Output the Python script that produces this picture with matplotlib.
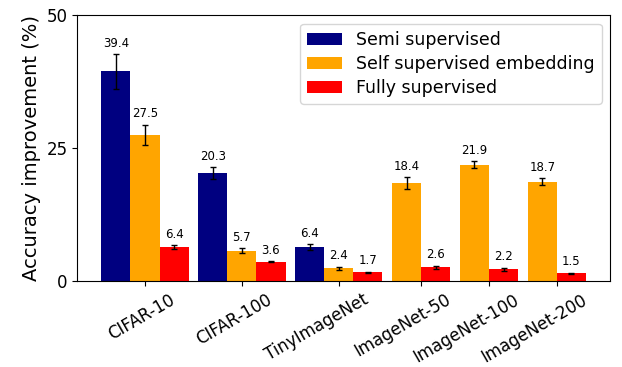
#!/usr/bin/env python3
'''
Accuracy improvement per dataset, grouped bars with error bars.
'''

import numpy as np
import matplotlib
matplotlib.use('Agg')
import matplotlib.pyplot as plt
import matplotlib.transforms as mtransforms

## data
datasets = ["CIFAR-10", "CIFAR-100", "TinyImageNet", "ImageNet-50", "ImageNet-100", "ImageNet-200"]
series = ["Semi supervised", "Self supervised embedding", "Fully supervised"]
colors = ["navy", "orange", "red"]

semi = [39.4, 20.3, 6.4, None, None, None]
semi_err = [3.3, 1.1, 0.55, None, None, None]
self_emb = [27.5, 5.7, 2.4, 18.4, 21.9, 18.7]
self_err = [1.9, 0.45, 0.3, 1.15, 0.6, 0.6]
full = [6.4, 3.6, 1.7, 2.6, 2.2, 1.5]
full_err = [0.3, 0.1, 0.1, 0.3, 0.35, 0.1]

values = [semi, self_emb, full]
errors = [semi_err, self_err, full_err]

## layout: groups only hold the bars they have
width = 0.3
gap = 0.1

fig = plt.figure(figsize=(6.22, 3.67), dpi=100)
ax = fig.add_axes([0.124, 0.234, 0.857, 0.725])

start = 0.0
ticks = []
handles = [None] * len(series)
for i in range(len(datasets)):
    present = [k for k in range(len(series)) if values[k][i] is not None]
    for j, k in enumerate(present):
        x = start + width * (j + 0.5)
        v, e = values[k][i], errors[k][i]
        b = ax.bar(x, v, width, yerr=e, color=colors[k], capsize=2,
                   error_kw=dict(elinewidth=1, ecolor='black', capthick=1))
        handles[k] = b
        ax.text(x, v + e + 0.8, f"{v}", ha='center', va='bottom', fontsize=8.5)
    ticks.append(start + width * len(present) / 2)
    start += width * len(present) + gap

ax.set_xticks(ticks)
ax.set_xticklabels(datasets, rotation=30, fontsize=12, ha='right')
shift = mtransforms.ScaledTranslation(0.33, 0, fig.dpi_scale_trans)
for lab in ax.get_xticklabels():
    lab.set_transform(lab.get_transform() + shift)

ax.set_ylim(0, 50)
ax.set_yticks([0, 25, 50])
ax.tick_params(axis='y', labelsize=12)
ax.set_ylabel("Accuracy improvement (%)", fontsize=14)
ax.legend(handles, series, loc='upper right', fontsize=12.5, labelspacing=0.35)

plt.savefig('out.png', dpi=100)
